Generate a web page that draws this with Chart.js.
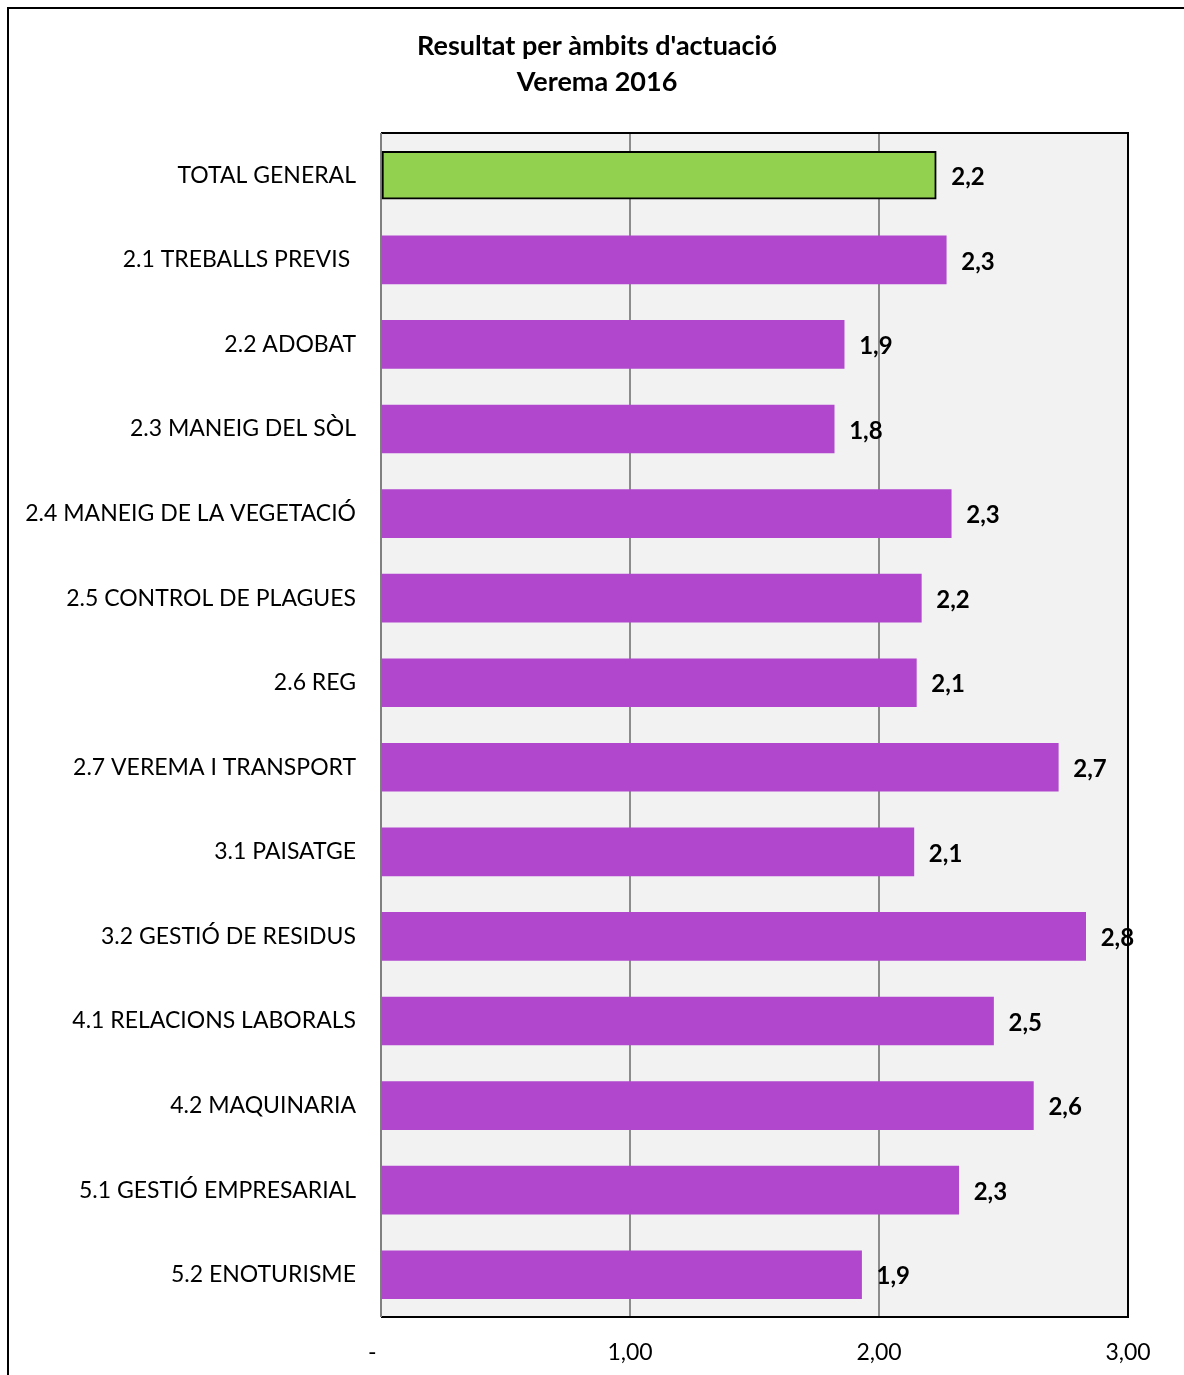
<!DOCTYPE html>
<html>
<head>
<meta charset="utf-8">
<script src="https://cdn.jsdelivr.net/npm/chart.js@4"></script>
<style>
body{margin:0;background:#fff;}
#wrap{position:relative;width:1184px;height:1375px;}
#frame{position:absolute;left:7px;top:7px;width:1200px;height:1400px;border:2px solid #000;pointer-events:none;}
</style>
</head>
<body>
<div id="wrap">
<canvas id="chart" width="1184" height="1375"></canvas>
<div id="frame"></div>
</div>
<script>
// dades
const categories=["TOTAL GENERAL","2.1 TREBALLS PREVIS ","2.2 ADOBAT","2.3 MANEIG DEL SÒL","2.4 MANEIG DE LA VEGETACIÓ","2.5 CONTROL DE PLAGUES","2.6 REG","2.7 VEREMA I TRANSPORT","3.1 PAISATGE","3.2 GESTIÓ DE RESIDUS","4.1 RELACIONS LABORALS","4.2 MAQUINARIA","5.1 GESTIÓ EMPRESARIAL","5.2 ENOTURISME"];
const values=[2.23,2.27,1.86,1.82,2.29,2.17,2.15,2.72,2.14,2.83,2.46,2.62,2.32,1.93];
const xTicks=[0,1,2,3];
const titleLines=["Resultat per àmbits d'actuació","Verema 2016"];

const FONT="Lato, 'Open Sans', sans-serif";
const barColors=categories.map((c,i)=>i==0?"#92d050":"#b147cd");

const plotStyle={
id:"plotStyle",
beforeDraw(chart){
const a=chart.chartArea,ctx=chart.ctx;
ctx.save();
ctx.fillStyle="#f2f2f2";
ctx.fillRect(a.left,a.top,a.right-a.left,a.bottom-a.top);
ctx.restore();
},
beforeDatasetsDraw(chart){
const a=chart.chartArea,ctx=chart.ctx;
ctx.save();
ctx.lineWidth=2;
ctx.strokeStyle="#000";
ctx.beginPath();
ctx.moveTo(a.left,a.top);ctx.lineTo(a.right,a.top);ctx.lineTo(a.right,a.bottom);ctx.lineTo(a.left,a.bottom);
ctx.stroke();
ctx.strokeStyle="#808080";
ctx.beginPath();
ctx.moveTo(a.left,a.top);ctx.lineTo(a.left,a.bottom);
ctx.stroke();
ctx.restore();
},
afterDatasetsDraw(chart){
const ctx=chart.ctx;
const meta=chart.getDatasetMeta(0);
ctx.save();
ctx.font="bold 24px "+FONT;
ctx.fillStyle="#000";
ctx.textBaseline="middle";
ctx.textAlign="left";
meta.data.forEach((bar,i)=>{
ctx.fillText(values[i].toFixed(1).replace(".",","),bar.x+15,bar.y+2);
});
// titol
ctx.font="bold 27px "+FONT;
ctx.textAlign="center";
ctx.fillText(titleLines[0],597,46);
ctx.fillText(titleLines[1],597,82);
ctx.restore();
}
};

new Chart(document.getElementById("chart"),{
type:"bar",
data:{
labels:categories,
datasets:[{
data:values,
backgroundColor:barColors,
borderColor:categories.map((c,i)=>i==0?"#000":"rgba(0,0,0,0)"),
borderWidth:categories.map((c,i)=>i==0?2:0),
borderSkipped:false,
barThickness:48
}]
},
options:{
indexAxis:"y",
responsive:false,
animation:false,
layout:{padding:{left:0,right:56,top:133,bottom:0}},
plugins:{legend:{display:false},title:{display:false},tooltip:{enabled:false}},
scales:{
x:{
min:0,max:3,
afterBuildTicks(s){s.ticks=xTicks.map(v=>({value:v}));},
afterFit(s){s.height=58;},
border:{display:false},
grid:{color:c=>c.tick&&c.tick.value>0&&c.tick.value<3?"#8c8c8c":"rgba(0,0,0,0)",lineWidth:2,drawTicks:false},
ticks:{padding:22,color:"#000",font:{family:FONT,size:23},callback:v=>v==0?"-   ":v.toFixed(2).replace(".",",")}
},
y:{
afterFit(s){s.width=381;},
border:{display:false},
grid:{display:false,drawTicks:false},
ticks:{padding:25,color:"#000",font:{family:FONT,size:23}}
}
}
},
plugins:[plotStyle]
});
</script>
</body>
</html>
